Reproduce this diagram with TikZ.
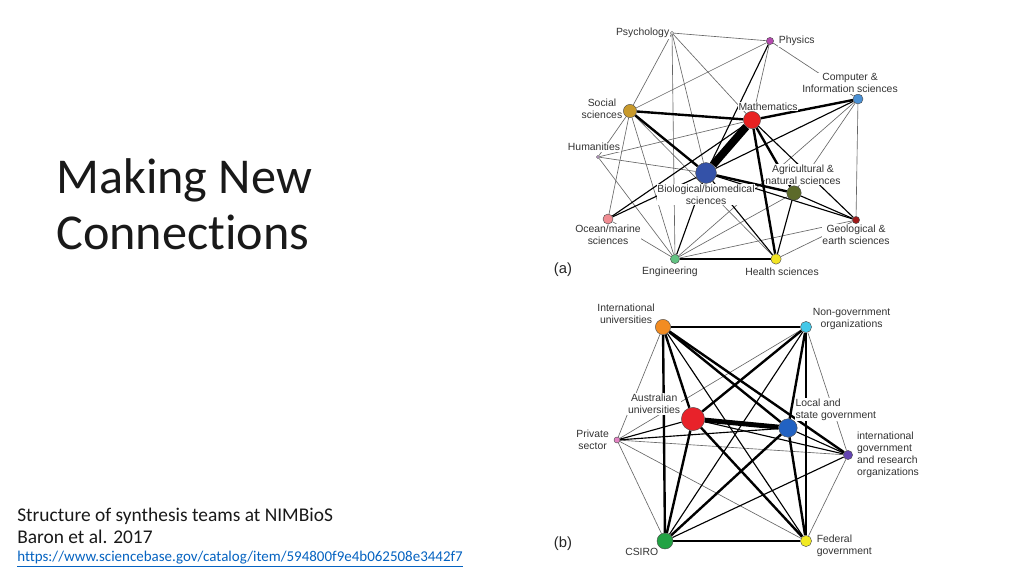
\documentclass[tikz,border=0pt]{standalone}
\usepackage{fontspec}
\setmainfont{Carlito}[Ligatures=NoCommon]
\newfontfamily\lblfont{Liberation Sans}
\usetikzlibrary{backgrounds}
\definecolor{cPsy}{HTML}{F4F4F4}
\definecolor{cPhy}{HTML}{B44AAE}
\definecolor{cCis}{HTML}{4A90D4}
\definecolor{cSoc}{HTML}{C89A2C}
\definecolor{cMat}{HTML}{E82222}
\definecolor{cHum}{HTML}{C8A2D2}
\definecolor{cBio}{HTML}{3452A8}
\definecolor{cAgr}{HTML}{5C6A2A}
\definecolor{cGeo}{HTML}{A01A1A}
\definecolor{cOce}{HTML}{F08C92}
\definecolor{cEng}{HTML}{62C282}
\definecolor{cHea}{HTML}{F2E424}
\definecolor{cIu}{HTML}{F28C22}
\definecolor{cNgo}{HTML}{44C8E8}
\definecolor{cAu}{HTML}{E8222A}
\definecolor{cLsg}{HTML}{2262C2}
\definecolor{cPs}{HTML}{E282C2}
\definecolor{cIgo}{HTML}{6444B2}
\definecolor{cCsiro}{HTML}{22A244}
\definecolor{cFg}{HTML}{F2EA22}
\definecolor{cUrl}{HTML}{0563C1}
\tikzstyle{vx}=[shape=circle, inner sep=0, draw=black!70, line width=0.3pt]
\tikzstyle{lb}=[font=\lblfont\fontsize{7.4}{8.6}\selectfont, text=black!80, align=center, inner sep=0.5pt, fill=white]
\tikzstyle{lt}=[black!60, line width=0.45pt]
\tikzstyle{md}=[black, line width=0.8pt]
\tikzstyle{tk}=[black, line width=1.7pt]
\tikzstyle{srctxt}=[anchor=west, inner sep=0, text=black!90]

\begin{document}
\begin{tikzpicture}[x=0.025cm, y=-0.025cm]
\useasboundingbox (0,0) rectangle (1024,576);
% title and source
\node[srctxt, align=left, font=\fontsize{35.7}{40}\selectfont] (title) at (56,204) {Making New\\Connections};
\node[srctxt, font=\fontsize{13.8}{16}\selectfont] (src1) at (17,516) {Structure of synthesis teams at NIMBioS};
\node[srctxt, font=\fontsize{13.8}{16}\selectfont] (src2) at (17,537) {Baron et al. 2017};
\node[srctxt, text=cUrl, font=\fontsize{10.65}{12}\selectfont] (url) at (17,559) {\underline{https://www.sciencebase.gov/catalog/item/594800f9e4b062508e3442f7}};
%
% (a) disciplines
\draw (563,270) node[font=\lblfont\fontsize{10.5}{12}\selectfont, text=black!85] (pa) {(a)};
\draw (672,33) node[vx, fill=cPsy, minimum size=0.8mm, label={[lb]left:Psychology}] (psy) {};
\draw (770,41) node[vx, fill=cPhy, minimum size=1.8mm, label={[lb, label distance=1mm]right:Physics}] (phy) {};
\draw (858,99) node[vx, fill=cCis, minimum size=2.5mm, label={[lb, xshift=-2mm]above:Computer \&\\Information sciences}] (cis) {};
\draw (630,111) node[vx, fill=cSoc, minimum size=3.3mm, label={[lb, yshift=0.6mm]left:Social\\sciences}] (soc) {};
\draw (752,120) node[vx, fill=cMat, minimum size=4.3mm, label={[lb, xshift=4mm]above:Mathematics}] (mat) {};
\draw (598,157) node[vx, fill=cHum, minimum size=0.8mm, label={[lb, xshift=-1mm, label distance=0.8mm]above:Humanities}] (hum) {};
\draw (706,173) node[vx, fill=cBio, minimum size=5.2mm, label={[lb]below:Biological/biomedical\\sciences}] (bio) {};
\draw (794,193) node[vx, fill=cAgr, minimum size=3.6mm, label={[lb, xshift=2.25mm]above:Agricultural \&\\natural sciences}] (agr) {};
\draw (856,220) node[vx, fill=cGeo, minimum size=1.8mm, label={[lb]below:Geological \&\\earth sciences}] (geo) {};
\draw (608,219) node[vx, fill=cOce, minimum size=2.5mm, label={[lb]below:Ocean/marine\\sciences}] (oce) {};
\draw (675,259) node[vx, fill=cEng, minimum size=2.3mm, label={[lb, xshift=-1.25mm, label distance=0.6mm]below:Engineering}] (eng) {};
\draw (776,259) node[vx, fill=cHea, minimum size=2.6mm, label={[lb, xshift=1.5mm, label distance=0.6mm]below:Health sciences}] (hea) {};
%
% (b) organisations
\draw (563,544) node[font=\lblfont\fontsize{10.5}{12}\selectfont, text=black!85] (pb) {(b)};
\draw (663,327) node[vx, fill=cIu, minimum size=3.8mm, label={[lb]160:International\\universities}] (iu) {};
\draw (806,327) node[vx, fill=cNgo, minimum size=2.8mm, label={[lb, yshift=2mm]right:Non-government\\organizations}] (ngo) {};
\draw (693,419) node[vx, fill=cAu, minimum size=5.8mm, label={[lb, yshift=3.75mm]left:Australian\\universities}] (au) {};
\draw (788,428) node[vx, fill=cLsg, minimum size=4.6mm, label={[lb, align=left]above right:Local and\\state government}] (lsg) {};
\draw (617,440) node[vx, fill=cPs, minimum size=1.5mm, label={[lb, label distance=1mm]left:Private\\sector}] (ps) {};
\draw (848,455) node[vx, fill=cIgo, minimum size=2.3mm, label={[lb, align=left, label distance=0.8mm]right:international\\government\\and research\\organizations}] (igo) {};
\draw (665,541) node[vx, fill=cCsiro, minimum size=4mm, label={[lb]below left:CSIRO}] (csiro) {};
\draw (806,541) node[vx, fill=cFg, minimum size=2.8mm, label={[lb, align=left, yshift=-1.25mm, label distance=1mm]right:Federal\\government}] (fg) {};
%
\begin{pgfonlayer}{background}
\fill[white] (0,0) rectangle (1024,576);
\foreach \a/\b in {psy/phy, psy/soc, psy/mat, psy/bio, psy/eng, phy/soc, phy/mat, phy/cis, soc/hum, soc/oce, soc/eng, soc/hea, hum/mat, hum/bio, hum/eng, oce/eng, eng/agr, eng/geo, eng/cis, hea/geo, cis/geo, cis/agr}
    \draw[lt] (\a)--(\b);
\foreach \a/\b in {phy/bio, cis/bio, oce/bio, oce/mat, eng/bio, eng/hea, hea/agr, hea/bio, mat/geo, agr/geo, bio/geo}
    \draw[md] (\a)--(\b);
\foreach \a/\b in {soc/mat, soc/bio, cis/mat, mat/hea, bio/agr, mat/agr}
    \draw[tk] (\a)--(\b);
\draw[black, line width=5.5pt] (mat)--(bio);
%
\foreach \a/\b in {iu/ps, ngo/ps, ngo/igo, ps/igo, ps/csiro, ps/fg, igo/fg}
    \draw[lt] (\a)--(\b);
\foreach \a/\b in {iu/ngo, iu/fg, ngo/fg, au/ps, lsg/ps, au/igo, lsg/igo, igo/csiro, csiro/fg, ngo/csiro}
    \draw[md] (\a)--(\b);
\foreach \a/\b in {iu/au, iu/csiro, iu/lsg, iu/igo, ngo/au, ngo/lsg, au/csiro, au/fg, lsg/csiro, lsg/fg}
    \draw[tk] (\a)--(\b);
\draw[black, line width=3.5pt] (au)--(lsg);
\end{pgfonlayer}
\end{tikzpicture}
\end{document}
